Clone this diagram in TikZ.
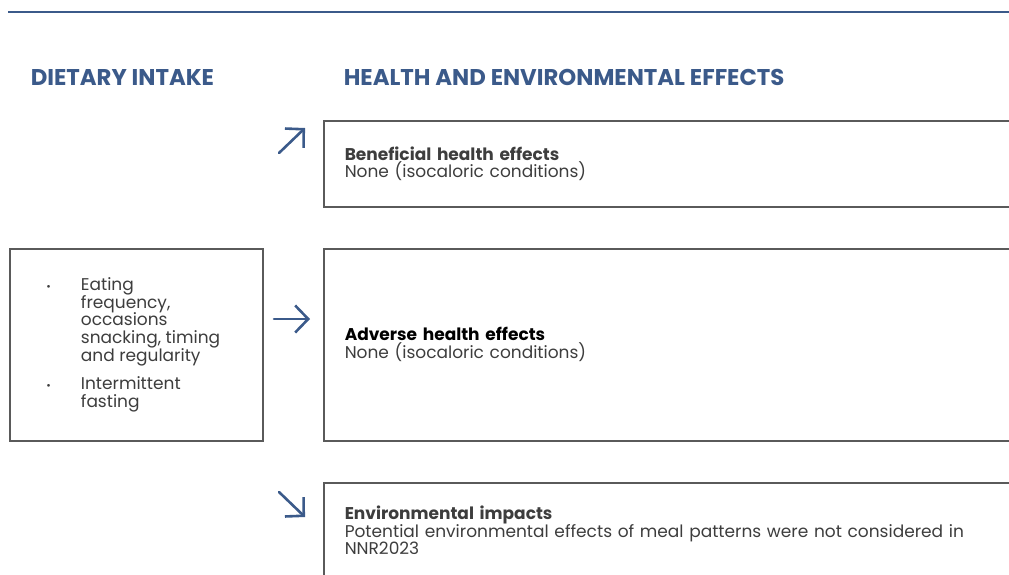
\documentclass[tikz,border=0pt]{standalone}
\usepackage{fontspec}
\setmainfont{Poppins}
\usepackage{tikz}
\usetikzlibrary{positioning}
\usetikzlibrary{arrows.meta}
\definecolor{nnrblue}{HTML}{3B5A8A}
\definecolor{boxgray}{HTML}{5A5A5A}
\definecolor{textgray}{HTML}{3D3D3D}

\begin{document}
\begin{tikzpicture}[x=1pt, y=-1pt, line width=1.5pt,
    heading/.style={anchor=base west, inner sep=0pt, text=nnrblue,
        font=\fontsize{22.8}{22.8}\selectfont\bfseries},
    effectbox/.style={draw=boxgray, anchor=north west, inner xsep=21pt, inner ysep=0pt,
        text width=760pt, align=left, text=textgray,
        font=\fontsize{17}{17.8}\selectfont},
    pointer/.style={draw=nnrblue, line width=2.6pt, line cap=round,
        -{Straight Barb[length=13pt,width=27pt,line join=miter]}}]
    \useasboundingbox (0,0) rectangle (1009,574);
    \clip (0,0) rectangle (1009,574);

    % Rule and headings
    \coordinate (ruleL) at (8,12);
    \coordinate (ruleR) at (1015,12);
    \draw[nnrblue, line width=2pt] (ruleL) -- (ruleR);
    \node[heading] (intakehead) at (30,85) {DIETARY INTAKE};
    \node[heading] (effecthead) at (343,85) {HEALTH AND ENVIRONMENTAL EFFECTS};

    % Dietary intake
    \node[draw=boxgray, anchor=north west, minimum width=253pt, minimum height=192pt,
        text=textgray, font=\fontsize{17}{15.8}\selectfont] (intake) at (9,248) {%
        \begin{tabular}{@{}l@{\hspace{30pt}}l@{\hspace{6pt}}}
        {\fontsize{11}{11}\selectfont\textbullet} & Eating\\
        & frequency,\\
        & occasions\\
        & snacking, timing\\
        & and regularity\\[11pt]
        {\fontsize{11}{11}\selectfont\textbullet} & Intermittent\\
        & fasting
        \end{tabular}};

    % Effects
    \node[effectbox, minimum height=86pt] (benefit) at (323,120)
        {\textbf{Beneficial health effects}\\None (isocaloric conditions)};
    \node[effectbox, minimum height=192pt] (adverse) at (323,248)
        {\textbf{\color{black}Adverse health effects}\\None (isocaloric conditions)};
    \node[effectbox, minimum height=95pt] (environ) at (323,482)
        {\textbf{Environmental impacts}\\Potential environmental effects of meal patterns were not considered in\\NNR2023};

    % Arrows
    \coordinate (upS) at (279,153);
    \coordinate (upE) at (305,128);
    \coordinate (midS) at (274,319);
    \coordinate (midE) at (310,319);
    \coordinate (downS) at (279,492);
    \coordinate (downE) at (305,517);
    \draw[pointer] (upS) -- (upE);
    \draw[pointer] (midS) -- (midE);
    \draw[pointer] (downS) -- (downE);
\end{tikzpicture}
\end{document}
